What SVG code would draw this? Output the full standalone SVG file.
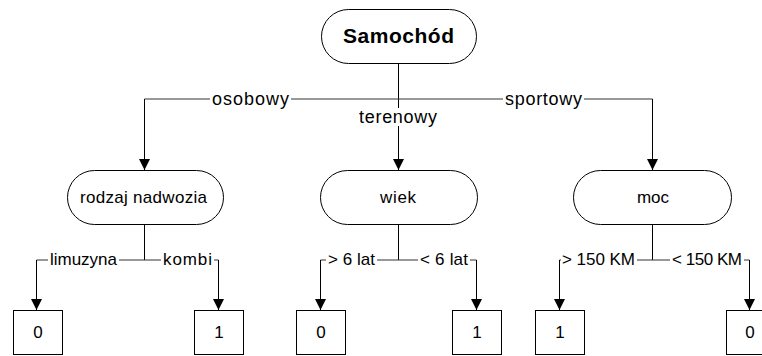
<svg xmlns="http://www.w3.org/2000/svg" width="762" height="356" viewBox="0 0 762 356">
<style>
.n{fill:#fff;stroke:#000;stroke-width:1}
.c{fill:none;stroke:#000;stroke-width:1}
.h{fill:none;stroke:#333;stroke-width:1}
.t{font-family:"Liberation Sans",Arial,sans-serif;font-size:17px;fill:#000;text-anchor:middle}
.tl{font-size:18px}
.b{font-family:"Liberation Sans",Arial,sans-serif;font-size:21px;font-weight:bold;fill:#000;text-anchor:middle}
.bg{fill:#fff}
</style>
<defs>
<marker id="arr" markerUnits="userSpaceOnUse" markerWidth="11" markerHeight="12" refX="11" refY="5.5" orient="auto">
<path d="M0,0 L11,5.5 L0,11 z" fill="#000"/>
</marker>
</defs>
<rect width="762" height="356" fill="#fff"/>
<g id="connectors">
<path class="c" d="M398.5,63 V170" marker-end="url(#arr)"/>
<path class="h" d="M144.5,99 H652.5"/>
<path class="c" d="M144.5,99 V170" marker-end="url(#arr)"/>
<path class="c" d="M652.5,99 V170" marker-end="url(#arr)"/>
<path class="c" d="M144.5,224 V260"/>
<path class="h" d="M36.5,260 H218.5"/>
<path class="c" d="M36.5,260 V310" marker-end="url(#arr)"/>
<path class="c" d="M218.5,260 V310" marker-end="url(#arr)"/>
<path class="c" d="M398.5,224 V260"/>
<path class="h" d="M320.5,260 H476.5"/>
<path class="c" d="M320.5,260 V310" marker-end="url(#arr)"/>
<path class="c" d="M476.5,260 V310" marker-end="url(#arr)"/>
<path class="c" d="M652.5,224 V260"/>
<path class="h" d="M559.5,260 H749.5"/>
<path class="c" d="M559.5,260 V310" marker-end="url(#arr)"/>
<path class="c" d="M749.5,260 V310" marker-end="url(#arr)"/>
<rect class="bg" x="210" y="92" width="81" height="16"/>
<text class="t tl" x="250.5" y="105" textLength="77" lengthAdjust="spacing">osobowy</text>
<rect class="bg" x="357" y="108" width="82" height="18"/>
<text class="t tl" x="398" y="123" textLength="78" lengthAdjust="spacing">terenowy</text>
<rect class="bg" x="503" y="92" width="81" height="16"/>
<text class="t tl" x="543.5" y="105" textLength="77" lengthAdjust="spacing">sportowy</text>
<rect class="bg" x="48" y="253" width="71" height="16"/>
<text class="t" x="83.5" y="265" textLength="67" lengthAdjust="spacing">limuzyna</text>
<rect class="bg" x="161" y="253" width="53" height="16"/>
<text class="t" x="187.5" y="265" textLength="49" lengthAdjust="spacing">kombi</text>
<rect class="bg" x="326" y="253" width="51" height="16"/>
<text class="t" x="351.5" y="265" textLength="47" lengthAdjust="spacing">&gt; 6 lat</text>
<rect class="bg" x="418" y="253" width="52" height="16"/>
<text class="t" x="444" y="265" textLength="48" lengthAdjust="spacing">&lt; 6 lat</text>
<rect class="bg" x="561" y="253" width="76" height="16"/>
<text class="t" x="598.5" y="265" textLength="73" lengthAdjust="spacing">&gt; 150 KM</text>
<rect class="bg" x="670" y="253" width="74" height="16"/>
<text class="t" x="707" y="265" textLength="70" lengthAdjust="spacing">&lt; 150 KM</text>
</g>
<g id="root">
<rect class="n" x="321.5" y="9.5" width="155" height="54" rx="27" ry="27"/>
<text class="b" x="398.5" y="43" textLength="111" lengthAdjust="spacing">Samochód</text>
</g>
<g id="rodzaj">
<rect class="n" x="67.5" y="170.5" width="156" height="54" rx="27" ry="27"/>
<text class="t" x="143.5" y="203" textLength="127" lengthAdjust="spacing">rodzaj nadwozia</text>
</g>
<g id="wiek">
<rect class="n" x="320.5" y="170.5" width="157" height="54" rx="27" ry="27"/>
<text class="t" x="398" y="203" textLength="36" lengthAdjust="spacing">wiek</text>
</g>
<g id="moc">
<rect class="n" x="573.5" y="170.5" width="158" height="54" rx="27" ry="27"/>
<text class="t" x="653" y="203" textLength="32" lengthAdjust="spacing">moc</text>
</g>
<g id="leaf1">
<rect class="n" x="13.5" y="310.5" width="49" height="44"/>
<text class="t" x="38" y="338">0</text>
</g>
<g id="leaf2">
<rect class="n" x="194.5" y="310.5" width="49" height="44"/>
<text class="t" x="219" y="338">1</text>
</g>
<g id="leaf3">
<rect class="n" x="296.5" y="310.5" width="49" height="44"/>
<text class="t" x="321" y="338">0</text>
</g>
<g id="leaf4">
<rect class="n" x="452.5" y="310.5" width="49" height="44"/>
<text class="t" x="477" y="338">1</text>
</g>
<g id="leaf5">
<rect class="n" x="535.5" y="310.5" width="49" height="44"/>
<text class="t" x="560" y="338">1</text>
</g>
<g id="leaf6">
<rect class="n" x="726.5" y="310.5" width="49" height="44"/>
<text class="t" x="750" y="338">0</text>
</g>
</svg>
